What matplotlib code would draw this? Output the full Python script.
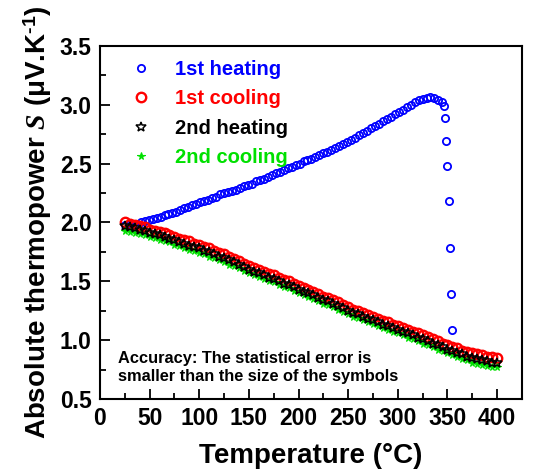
import matplotlib
matplotlib.use("Agg")
import matplotlib.pyplot as plt
from matplotlib.ticker import MultipleLocator

plt.rcParams['font.family'] = ['Liberation Sans', 'DejaVu Sans']
plt.rcParams['font.weight'] = 'bold'
plt.rcParams['mathtext.fontset'] = 'custom'
plt.rcParams['mathtext.it'] = 'Liberation Serif:italic'
plt.rcParams['mathtext.rm'] = 'Liberation Sans:bold'
plt.rcParams['mathtext.bf'] = 'Liberation Sans:bold'

# ---- data ----
heat1_T = [25, 29, 33, 37, 41, 45, 49, 53, 57, 61, 65, 69, 73, 77, 81, 85, 89, 93, 97,
           101, 105, 109, 113, 117, 121, 125, 129, 133, 137, 141, 145, 149, 153, 157,
           161, 165, 169, 173, 177, 181, 185, 189, 193, 197, 201, 205, 209, 213, 217,
           221, 225, 229, 233, 237, 241, 245, 249, 253, 257, 261, 265, 269, 273, 277,
           281, 285, 289, 293, 297, 301, 305, 309, 313, 317, 321, 325, 329,
           332, 336, 340, 344, 346, 347.5, 349, 350, 351.5, 352.5, 354, 355]
heat1_S = [1.98, 1.985, 1.99, 1.99, 2.00, 2.01, 2.02, 2.03, 2.04, 2.05, 2.06, 2.07, 2.08,
           2.09, 2.11, 2.12, 2.13, 2.15, 2.16, 2.17, 2.18, 2.19, 2.21, 2.22, 2.24, 2.25,
           2.26, 2.27, 2.28, 2.29, 2.31, 2.32, 2.33, 2.35, 2.36, 2.37, 2.39, 2.40, 2.42,
           2.43, 2.45, 2.46, 2.47, 2.49, 2.50, 2.52, 2.53, 2.54, 2.56, 2.57, 2.59, 2.60,
           2.62, 2.63, 2.65, 2.67, 2.68, 2.70, 2.72, 2.74, 2.76, 2.78, 2.80, 2.82, 2.84,
           2.86, 2.88, 2.90, 2.92, 2.94, 2.96, 2.98, 3.00, 3.02, 3.04, 3.05, 3.06,
           3.07, 3.06, 3.04, 3.02, 2.99, 2.89, 2.69, 2.48, 2.18, 1.78, 1.39, 1.09]

cool_T = [25, 30, 35, 40, 45, 50, 55, 60, 65, 70, 75, 80, 85, 90, 95, 100, 105, 110, 115,
          120, 125, 130, 135, 140, 145, 150, 155, 160, 165, 170, 175, 180, 185, 190, 195,
          200, 205, 210, 215, 220, 225, 230, 235, 240, 245, 250, 255, 260, 265, 270, 275,
          280, 285, 290, 295, 300, 305, 310, 315, 320, 325, 330, 335, 340, 345, 350, 355,
          360, 365, 370, 375, 380, 385, 390, 395, 400]
cool1_S = [2.00, 1.99, 1.98, 1.97, 1.96, 1.94, 1.93, 1.92, 1.91, 1.89, 1.88, 1.86, 1.85,
           1.84, 1.82, 1.81, 1.79, 1.78, 1.76, 1.74, 1.73, 1.71, 1.69, 1.67, 1.65, 1.63,
           1.61, 1.60, 1.58, 1.56, 1.55, 1.53, 1.51, 1.50, 1.48, 1.46, 1.44, 1.43, 1.41,
           1.39, 1.37, 1.36, 1.34, 1.32, 1.30, 1.28, 1.26, 1.25, 1.23, 1.21, 1.20, 1.18,
           1.16, 1.15, 1.13, 1.12, 1.10, 1.09, 1.07, 1.06, 1.04, 1.03, 1.01, 0.99, 0.97,
           0.96, 0.94, 0.93, 0.91, 0.90, 0.89, 0.88, 0.87, 0.86, 0.86, 0.85]
heat2_S = [1.97, 1.96, 1.95, 1.94, 1.93, 1.91, 1.90, 1.89, 1.88, 1.86, 1.85, 1.83, 1.82,
           1.80, 1.79, 1.78, 1.76, 1.75, 1.73, 1.71, 1.70, 1.68, 1.66, 1.64, 1.62, 1.60,
           1.58, 1.57, 1.55, 1.53, 1.52, 1.50, 1.48, 1.47, 1.45, 1.43, 1.41, 1.40, 1.38,
           1.36, 1.34, 1.33, 1.31, 1.29, 1.27, 1.25, 1.23, 1.22, 1.20, 1.18, 1.17, 1.15,
           1.13, 1.12, 1.10, 1.09, 1.07, 1.06, 1.04, 1.02, 1.01, 0.99, 0.97, 0.96, 0.94,
           0.92, 0.91, 0.89, 0.88, 0.86, 0.85, 0.84, 0.83, 0.82, 0.81, 0.81]
cool2_S = [1.93, 1.92, 1.91, 1.90, 1.89, 1.88, 1.87, 1.85, 1.84, 1.83, 1.81, 1.80, 1.78,
           1.77, 1.76, 1.74, 1.73, 1.71, 1.70, 1.68, 1.66, 1.64, 1.63, 1.61, 1.59, 1.57,
           1.55, 1.54, 1.52, 1.50, 1.49, 1.47, 1.45, 1.44, 1.42, 1.40, 1.38, 1.37, 1.35,
           1.33, 1.31, 1.30, 1.28, 1.26, 1.24, 1.22, 1.20, 1.19, 1.17, 1.15, 1.14, 1.12,
           1.10, 1.09, 1.07, 1.06, 1.04, 1.02, 1.01, 0.99, 0.97, 0.96, 0.94, 0.92, 0.91,
           0.89, 0.87, 0.86, 0.84, 0.83, 0.81, 0.80, 0.79, 0.78, 0.77, 0.77]

labels = ['1st heating', '1st cooling', '2nd heating', '2nd cooling']
colors = ['#0000ff', '#ff0000', '#000000', '#00e000']
x_ticks = [0, 50, 100, 150, 200, 250, 300, 350, 400]
y_ticks = [0.5, 1.0, 1.5, 2.0, 2.5, 3.0, 3.5]

fig = plt.figure(figsize=(5.41, 4.71), dpi=100)
ax = fig.add_axes([0.1848, 0.1529, 0.780, 0.7495])

ax.plot(heat1_T, heat1_S, linestyle='none', marker='o', ms=5.2, mfc='none',
        mec=colors[0], mew=1.3, label=labels[0])
ax.plot(cool_T, cool1_S, linestyle='none', marker='o', ms=6.8, mfc='none',
        mec=colors[1], mew=1.7, label=labels[1])
ax.plot(cool_T, cool2_S, linestyle='none', marker='*', ms=5.5, mfc=colors[3],
        mec=colors[3], mew=0.8, label=labels[3])
ax.plot(cool_T, heat2_S, linestyle='none', marker='*', ms=7.5, mfc='none',
        mec=colors[2], mew=1.1, label=labels[2])

ax.set_xlim(0, 425)
ax.set_ylim(0.5, 3.5)
ax.set_xticks(x_ticks)
ax.set_yticks(y_ticks)
ax.set_yticklabels([f'{v:.1f}' for v in y_ticks])
ax.xaxis.set_minor_locator(MultipleLocator(25))
ax.yaxis.set_minor_locator(MultipleLocator(0.25))
ax.tick_params(which='both', direction='in', top=False, right=False,
               labelsize=16.5, width=1.3)
ax.tick_params(which='major', length=7, pad=6)
ax.tick_params(which='minor', length=4)
for lab in ax.get_xticklabels() + ax.get_yticklabels():
    lab.set_fontweight('bold')
for sp in ax.spines.values():
    sp.set_linewidth(1.5)

ax.set_xlabel('Temperature (°C)', fontsize=20, fontweight='bold', labelpad=9)
ax.set_ylabel(r'Absolute thermopower $\mathit{S}$ (μV.K$^{\text{-1}}$)', fontsize=20,
              fontweight='bold', labelpad=4)

handles, labs = ax.get_legend_handles_labels()
order = [0, 1, 3, 2]
leg = ax.legend([handles[i] for i in order], [labs[i] for i in order],
                loc='upper left', bbox_to_anchor=(0.045, 0.995), frameon=False,
                handlelength=1.0, handletextpad=1.2,
                labelspacing=0.52, borderaxespad=0.2, prop={'weight': 'bold', 'size': 14.5},
                labelcolor=[colors[0], colors[1], colors[2], colors[3]])

ax.text(0.043, 0.088, 'Accuracy: The statistical error is\nsmaller than the size of the symbols',
        transform=ax.transAxes, fontsize=11.8, fontweight='bold', ha='left', va='center',
        linespacing=1.25)

fig.savefig('out.png', dpi=100)
